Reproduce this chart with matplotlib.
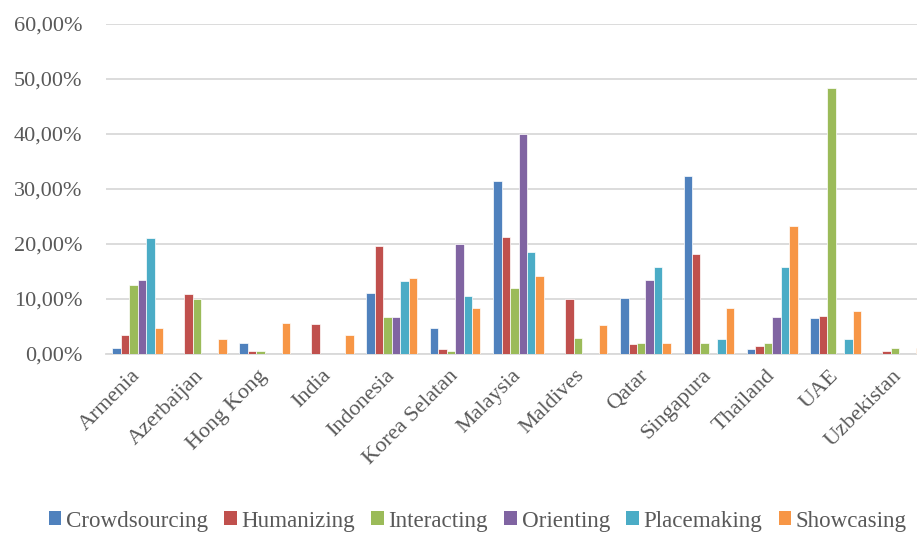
import numpy as np
import matplotlib.pyplot as plt
from matplotlib.patches import Patch

# --------------------------------------------------------------
# Data (share of posts per strategy, in %)
# --------------------------------------------------------------
countries = ["Armenia", "Azerbaijan", "Hong Kong", "India", "Indonesia",
             "Korea Selatan", "Malaysia", "Maldives", "Qatar", "Singapura",
             "Thailand", "UAE", "Uzbekistan"]

crowdsourcing = [1.0, 0, 1.9, 0, 11.1, 4.6, 31.5, 0, 10.1, 32.4, 0.9, 6.5, 0]
humanizing    = [3.3, 10.8, 0.45, 5.4, 19.5, 0.9, 21.3, 10.0, 1.7, 18.1, 1.4, 6.8, 0.45]
interacting   = [12.4, 9.9, 0.45, 0, 6.7, 0.45, 11.9, 2.8, 1.9, 1.9, 1.9, 48.4, 1.0]
orienting     = [13.4, 0, 0, 0, 6.7, 20.0, 40.0, 0, 13.3, 0, 6.7, 0, 0]
placemaking   = [21.1, 0, 0, 0, 13.2, 10.5, 18.4, 0, 15.8, 2.6, 15.8, 2.6, 0]
showcasing    = [4.7, 2.7, 5.6, 3.3, 13.8, 8.3, 14.2, 5.1, 2.0, 8.3, 23.3, 7.7, 1.0]

series = ["Crowdsourcing", "Humanizing", "Interacting", "Orienting", "Placemaking", "Showcasing"]
values = [crowdsourcing, humanizing, interacting, orienting, placemaking, showcasing]
colors = ["#4F81BD", "#C0504D", "#9BBB59", "#8064A2", "#4BACC6", "#F79646"]

# --------------------------------------------------------------
# Plot settings
# --------------------------------------------------------------
plt.rcParams["font.family"] = ["Liberation Serif", "DejaVu Serif"]
text_color = "#595959"

W, H = 917, 533
fig = plt.figure(figsize=(W / 100, H / 100), dpi=100)
left, right = 106, 931
top, bottom = 24, 353.5
ax = fig.add_axes([left / W, (H - bottom) / H, (right - left) / W, (bottom - top) / H])

x = np.arange(len(countries))
bar_w = 1 / 7.5
for i, (name, vals, c) in enumerate(zip(series, values, colors)):
    ax.bar(x + (i - 2.5) * bar_w, np.array(vals) / 100, width=bar_w,
           color=c, edgecolor="white", linewidth=0.5, zorder=3)

ax.set_xlim(-0.5, len(countries) - 0.5)
ax.set_ylim(0, 0.6)
ax.set_yticks(np.arange(0, 0.61, 0.1))
ax.set_yticklabels([f"{v:.2f}%".replace(".", ",") for v in np.arange(0, 61, 10)],
                   fontsize=16, color=text_color)
ax.yaxis.grid(True, color="#D9D9D9", linewidth=1.3, zorder=0)
ax.tick_params(axis="y", length=0, pad=17)

ax.set_xticks(x)
ax.set_xticklabels(countries, rotation=45, ha="right", va="center",
                   rotation_mode="anchor", fontsize=16, color=text_color)
ax.tick_params(axis="x", length=0, pad=14)

for s in ["top", "right", "left"]:
    ax.spines[s].set_visible(False)
ax.spines["bottom"].set_color("#D9D9D9")
ax.spines["bottom"].set_linewidth(1.3)

handles = [Patch(facecolor=c, edgecolor="none") for c in colors]
fig.legend(handles, series, loc="center", bbox_to_anchor=(0.521, 1 - 521 / H),
           ncol=6, frameon=False, fontsize=16.6, handlelength=0.55, handleheight=0.55,
           handletextpad=0.2, columnspacing=0.7, labelcolor=text_color)

fig.savefig("out.png", dpi=100)
